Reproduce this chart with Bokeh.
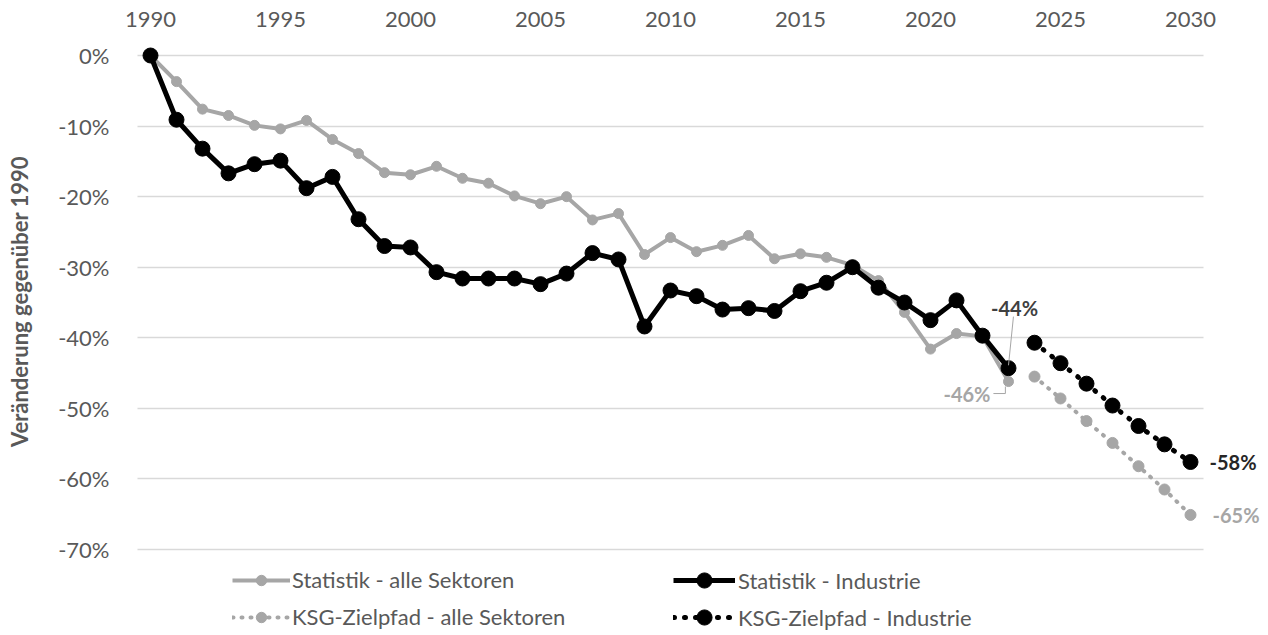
import math
from bokeh.plotting import figure
from bokeh.models import Range1d, FixedTicker, Label, Legend, LegendItem
from bokeh.embed import file_html
from bokeh.resources import INLINE

# ---------------- data ----------------
years_stat = list(range(1990, 2024))
all_sectors = [0, -3.7, -7.6, -8.5, -9.9, -10.4, -9.2, -11.9, -13.9, -16.6,
               -16.9, -15.7, -17.4, -18.1, -19.9, -21.0, -20.0, -23.3, -22.4, -28.2,
               -25.8, -27.8, -26.9, -25.5, -28.8, -28.1, -28.6, -29.7, -31.9, -36.4,
               -41.6, -39.4, -39.8, -46.2]
industry = [0, -9.1, -13.2, -16.7, -15.4, -14.9, -18.8, -17.2, -23.2, -27.0,
            -27.2, -30.7, -31.6, -31.6, -31.6, -32.4, -30.9, -28.0, -28.9, -38.4,
            -33.3, -34.1, -36.0, -35.8, -36.2, -33.4, -32.2, -30.0, -32.9, -35.0,
            -37.5, -34.7, -39.7, -44.3]
years_ksg = list(range(2024, 2031))
ksg_all = [-45.5, -48.6, -51.8, -54.9, -58.2, -61.5, -65.1]
ksg_ind = [-40.7, -43.6, -46.5, -49.6, -52.5, -55.1, -57.6]

x_ticks = [1990, 1995, 2000, 2005, 2010, 2015, 2020, 2025, 2030]
y_ticks = [0, -10, -20, -30, -40, -50, -60, -70]

series_names = ["Statistik - alle Sektoren", "Statistik - Industrie",
                "KSG-Zielpfad - alle Sektoren", "KSG-Zielpfad - Industrie"]
y_title = "Veränderung gegenüber 1990"

# ---------------- styling / layout ----------------
FONT = "Lato"
GRAY = "#A6A6A6"
BLACK = "#000000"
TXT = "#595959"

W, H = 1264, 632
px_year = 26.0                    # px per year
k = (549 - 55) / 70.0             # px per percentage point
plot_x0, plot_x1 = 1989.5, 2030.5  # plot-area extent (years)
x_start = plot_x0 - 137 / px_year
x_end = plot_x1 + (W - 1203) / px_year
y_end = 55 / k
y_start = -(H - 55) / k

p = figure(width=W, height=H, output_backend="svg", toolbar_location=None,
           x_range=Range1d(x_start, x_end), y_range=Range1d(y_start, y_end),
           x_axis_location="above",
           min_border_left=0, min_border_right=0,
           min_border_top=0, min_border_bottom=0)
p.outline_line_color = None
p.background_fill_color = "white"
p.border_fill_color = "white"

# axes (fixed to the plot-area edges)
p.xaxis.fixed_location = (55 - 42) / k
p.yaxis.fixed_location = plot_x0
p.xaxis.ticker = FixedTicker(ticks=x_ticks)
p.yaxis.ticker = FixedTicker(ticks=y_ticks)
p.yaxis.major_label_overrides = {v: f"{v}%" for v in y_ticks}
for ax in (p.xaxis, p.yaxis):
    ax.axis_line_color = None
    ax.major_tick_line_color = None
    ax.minor_tick_line_color = None
    ax.major_label_text_font = FONT
    ax.major_label_text_font_size = "22px"
    ax.major_label_text_color = TXT
p.xaxis.major_label_standoff = 10
p.yaxis.major_label_standoff = 22

# horizontal grid limited to the plot area
p.xgrid.grid_line_color = None
g = p.ygrid[0]
g.ticker = FixedTicker(ticks=y_ticks)
g.grid_line_color = "#D9D9D9"
g.grid_line_width = 1.5
if hasattr(g, "cross_bounds"):
    g.cross_bounds = (plot_x0, plot_x1)
else:
    g.visible = False
    p.segment(x0=[plot_x0] * len(y_ticks), y0=y_ticks, x1=[plot_x1] * len(y_ticks), y1=y_ticks,
              line_color="#D9D9D9", line_width=1.5, level="underlay")

# series
r_all_l = p.line(years_stat, all_sectors, line_color=GRAY, line_width=4, line_join="round")
r_all_m = p.scatter(years_stat, all_sectors, size=10, fill_color=GRAY, line_color=GRAY)

r_kall_l = p.line(years_ksg, ksg_all, line_color=GRAY, line_width=4, line_dash="1 8", line_cap="round")
r_kall_m = p.scatter(years_ksg, ksg_all, size=11, fill_color=GRAY, line_color=GRAY)

r_ind_l = p.line(years_stat, industry, line_color=BLACK, line_width=5, line_join="round")
r_ind_m = p.scatter(years_stat, industry, size=15, fill_color=BLACK, line_color=BLACK)

r_kind_l = p.line(years_ksg, ksg_ind, line_color=BLACK, line_width=5, line_dash="1 10", line_cap="round")
r_kind_m = p.scatter(years_ksg, ksg_ind, size=15, fill_color=BLACK, line_color=BLACK)

# leader lines for end labels
xl = years_stat[-1]
p.segment(x0=[xl + 0.19], y0=[industry[-1] + 7.3], x1=[xl], y1=[industry[-1] + 0.4],
          line_color=GRAY, line_width=1)
p.segment(x0=[xl - 0.58, xl - 0.12], y0=[all_sectors[-1] - 1.7, all_sectors[-1] - 1.7],
          x1=[xl - 0.12, xl - 0.12], y1=[all_sectors[-1] - 1.7, all_sectors[-1] - 0.7],
          line_color=GRAY, line_width=1)

def end_label(x, y, text, color, dx, dy, align):
    p.add_layout(Label(x=x, y=y, text=text, x_offset=dx, y_offset=dy,
                       text_align=align, text_baseline="middle",
                       text_font=FONT, text_font_style="bold",
                       text_font_size="20px", text_color=color))

end_label(years_stat[-1], industry[-1], f"{round(industry[-1])}%", "#404040", 6, 60, "center")
end_label(years_stat[-1], all_sectors[-1], f"{round(all_sectors[-1])}%", GRAY, -18, -12, "right")
end_label(years_ksg[-1], ksg_ind[-1], f"{round(ksg_ind[-1])}%", "#262626", 19, 0, "left")
end_label(years_ksg[-1], ksg_all[-1], f"{round(ksg_all[-1])}%", GRAY, 22, 0, "left")

# y axis title (centred on the plot area)
p.add_layout(Label(x=19, y=H - 301, x_units="screen", y_units="screen", text=y_title,
                   angle=math.pi / 2, text_align="center", text_baseline="middle",
                   text_font=FONT, text_font_style="bold", text_font_size="22px",
                   text_color=TXT))

# legend: two columns, two rows (one legend per entry)
def make_legend(label, renderers, x, row_center, gh, gw, standoff):
    leg = Legend(items=[LegendItem(label=label, renderers=renderers)],
                 location=(x, H - row_center - gh / 2), orientation="vertical",
                 padding=0, margin=0, spacing=0,
                 label_height=gh, glyph_height=gh, glyph_width=gw,
                 label_standoff=standoff, label_text_font=FONT, label_text_font_size="22px",
                 label_text_color=TXT, border_line_color=None,
                 background_fill_alpha=0)
    p.add_layout(leg)

make_legend(series_names[0], [r_all_l, r_all_m], 232, 580, 26, 58, 2)
make_legend(series_names[2], [r_kall_l, r_kall_m], 232, 617, 26, 58, 2)
make_legend(series_names[1], [r_ind_l, r_ind_m], 673, 580, 38, 62, 3)
make_legend(series_names[3], [r_kind_l, r_kind_m], 673, 617, 38, 62, 3)

open("out.html", "w").write(file_html(p, INLINE))
